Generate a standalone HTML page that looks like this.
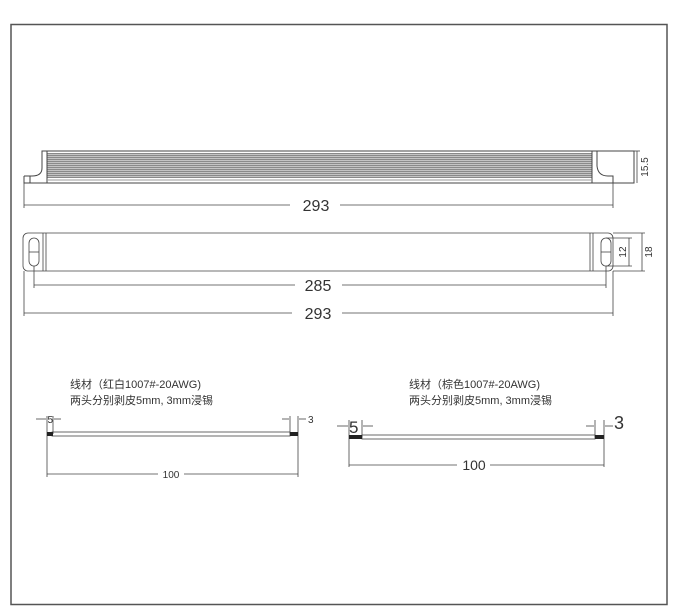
<!DOCTYPE html>
<html><head><meta charset="utf-8"><style>
html,body{margin:0;padding:0;background:#fff}
svg{display:block}
text{font-family:"Liberation Sans","Noto Sans CJK SC",sans-serif;fill:#333}
</style></head><body>
<svg width="680" height="616" viewBox="0 0 680 616" xmlns="http://www.w3.org/2000/svg">
<defs>
<pattern id="fins" x="0" y="153" width="4" height="2" patternUnits="userSpaceOnUse">
<rect width="4" height="1" fill="#8a8a8a"/><rect y="1" width="4" height="1" fill="#c4c4c4"/>
</pattern>
</defs>
<rect x="11" y="24.5" width="656" height="580" fill="none" stroke="#555" stroke-width="1.5"/>
<rect x="47" y="153" width="545" height="25" fill="url(#fins)"/>
<g stroke="#444" stroke-width="1" fill="none">
<path d="M24 176 L24 183 L634 183 L634 151 L42 151 L42 168 Q42 176 32 176 L24 176"/>
<line x1="47" y1="151" x2="47" y2="183"/>
<line x1="592" y1="151" x2="592" y2="183"/>
<line x1="597" y1="151" x2="597" y2="166"/>
<path d="M597 166 Q598 176 608 176 L613 176 L613 183"/>
<path d="M30 176 L30 183"/>
<line x1="47" y1="180" x2="592" y2="180" stroke="#999"/>
</g>
<g stroke="#444" stroke-width="0.8" fill="none">
<line x1="24" y1="183" x2="24" y2="208"/>
<line x1="613" y1="183" x2="613" y2="208"/>
<line x1="24" y1="205" x2="290" y2="205"/><line x1="340" y1="205" x2="613" y2="205"/>
<line x1="634" y1="151" x2="640" y2="151"/><line x1="637" y1="151" x2="637" y2="183"/>
<rect x="23" y="233" width="590" height="38" rx="5"/>
<line x1="43" y1="233" x2="43" y2="271"/><line x1="46" y1="233" x2="46" y2="271"/>
<line x1="590" y1="233" x2="590" y2="271"/><line x1="593" y1="233" x2="593" y2="271"/>
<rect x="29" y="238" width="10" height="28" rx="5"/>
<line x1="29" y1="252" x2="39" y2="252"/>
<rect x="601" y="238" width="10" height="28" rx="5"/>
<line x1="601" y1="252" x2="611" y2="252"/>
<line x1="606" y1="238" x2="632" y2="238"/><line x1="606" y1="266" x2="632" y2="266"/>
<line x1="629" y1="238" x2="629" y2="266"/>
<line x1="613" y1="233" x2="645" y2="233"/><line x1="613" y1="271" x2="645" y2="271"/>
<line x1="642" y1="233" x2="642" y2="271"/>
<line x1="34" y1="266" x2="34" y2="288"/><line x1="606" y1="266" x2="606" y2="288"/>
<line x1="34" y1="285" x2="295" y2="285"/><line x1="342" y1="285" x2="606" y2="285"/>
<line x1="24" y1="271" x2="24" y2="316"/><line x1="613" y1="271" x2="613" y2="316"/>
<line x1="24" y1="313" x2="292" y2="313"/><line x1="342" y1="313" x2="613" y2="313"/>
</g>
<text x="316" y="211" font-size="16" text-anchor="middle">293</text>
<text x="318" y="291" font-size="16" text-anchor="middle">285</text>
<text x="318" y="319" font-size="16" text-anchor="middle">293</text>
<text transform="translate(648,167) rotate(-90)" font-size="10" text-anchor="middle">15.5</text>
<text transform="translate(626,252) rotate(-90)" font-size="10" text-anchor="middle">12</text>
<text transform="translate(652,252) rotate(-90)" font-size="10" text-anchor="middle">18</text>
<text x="70" y="388" font-size="11">线材（红白1007#-20AWG)</text>
<text x="70" y="404" font-size="11">两头分别剥皮5mm, 3mm浸锡</text>
<g stroke="#444" stroke-width="0.8" fill="none">
<rect x="52" y="432" width="238" height="4"/>
<line x1="47" y1="416" x2="47" y2="477"/><line x1="298" y1="416" x2="298" y2="477"/>
<line x1="53" y1="416" x2="53" y2="434"/><line x1="290" y1="416" x2="290" y2="434"/>
<line x1="36" y1="419" x2="46" y2="419"/><line x1="54" y1="419" x2="61" y2="419"/>
<line x1="282" y1="419" x2="289" y2="419"/><line x1="299" y1="419" x2="306" y2="419"/>
<line x1="47" y1="474" x2="158" y2="474"/><line x1="184" y1="474" x2="298" y2="474"/>
</g>
<rect x="47" y="432" width="6" height="4" fill="#222"/><rect x="290" y="432" width="8" height="4" fill="#222"/>
<text x="47.5" y="423" font-size="10">5</text>
<text x="308" y="423" font-size="10">3</text>
<text x="171" y="478" font-size="10" text-anchor="middle">100</text>
<text x="409" y="388" font-size="11">线材（棕色1007#-20AWG)</text>
<text x="409" y="404" font-size="11">两头分别剥皮5mm, 3mm浸锡</text>
<g stroke="#444" stroke-width="0.8" fill="none">
<rect x="362" y="435" width="233" height="4"/>
<line x1="349" y1="420" x2="349" y2="467"/><line x1="604" y1="420" x2="604" y2="467"/>
<line x1="362" y1="420" x2="362" y2="437"/><line x1="595" y1="420" x2="595" y2="437"/>
<line x1="337" y1="426" x2="348" y2="426"/><line x1="363" y1="426" x2="373" y2="426"/>
<line x1="586" y1="426" x2="594" y2="426"/><line x1="605" y1="426" x2="613" y2="426"/>
<line x1="349" y1="465" x2="457" y2="465"/><line x1="490" y1="465" x2="604" y2="465"/>
</g>
<rect x="349" y="435" width="13" height="4" fill="#222"/><rect x="595" y="435" width="9" height="4" fill="#222"/>
<text x="349" y="433" font-size="17">5</text>
<text x="614" y="429" font-size="18">3</text>
<text x="474" y="470" font-size="14" text-anchor="middle">100</text>
</svg>
</body></html>
